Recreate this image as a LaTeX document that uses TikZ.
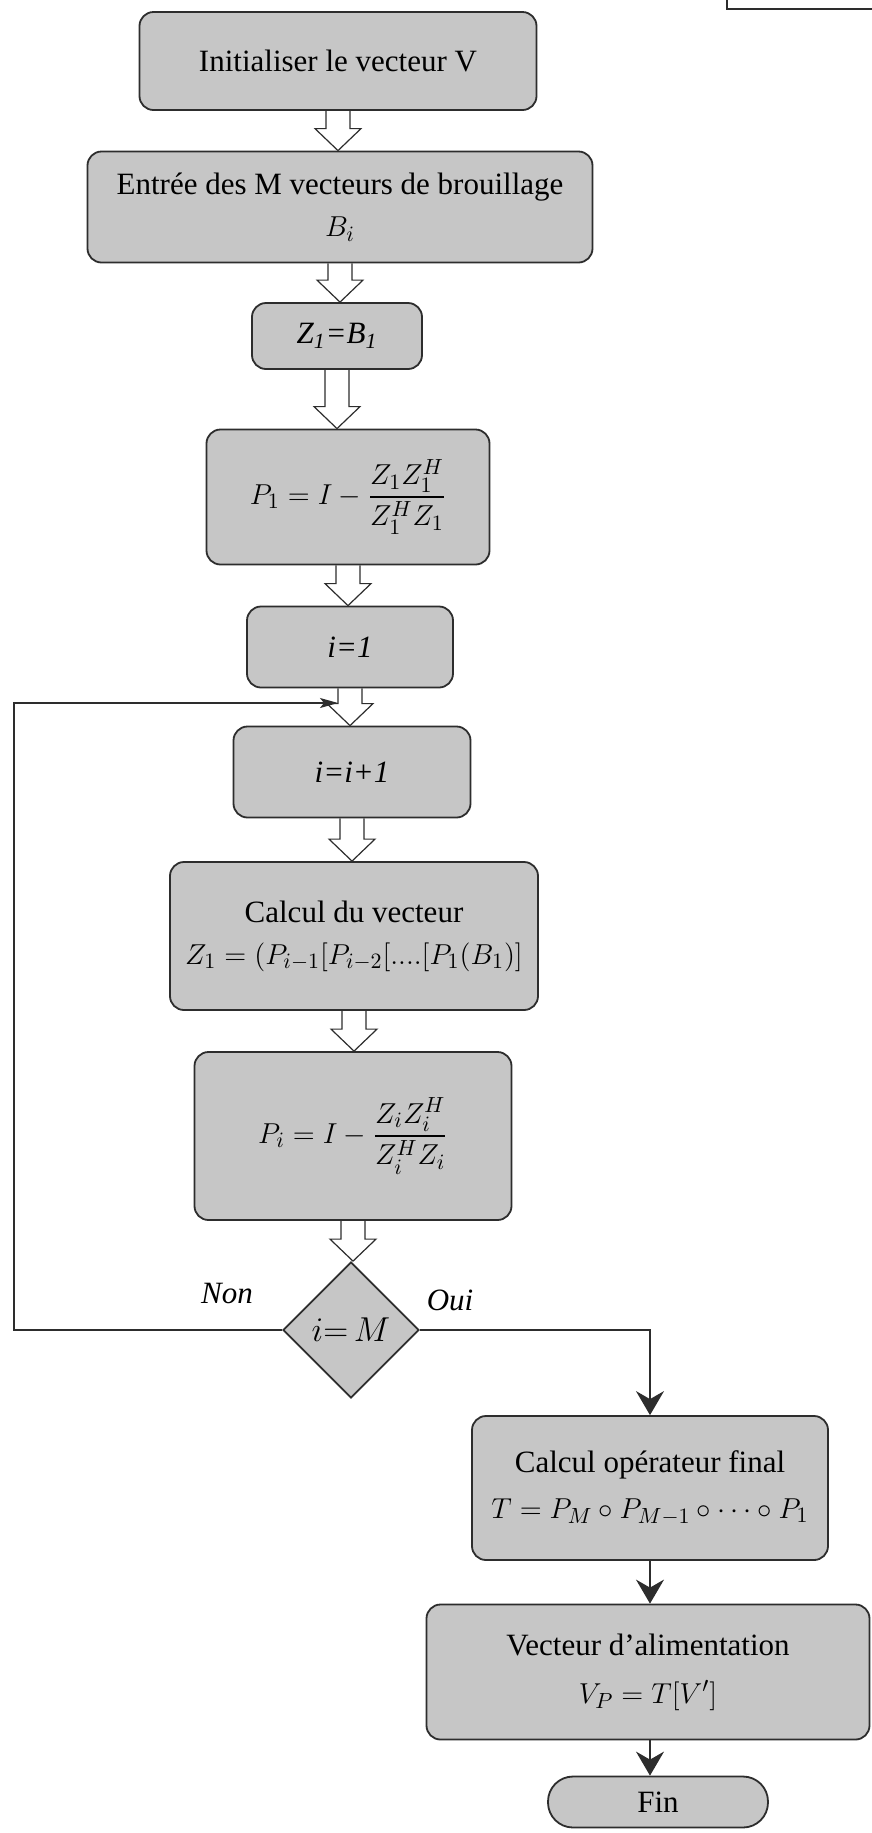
\documentclass[tikz,border=0pt]{standalone}
\usepackage{amsmath}
\usepackage{fontspec}
\setmainfont{Liberation Serif}
\usepackage{tikz}
\usetikzlibrary{shapes.geometric,arrows.meta,calc}
\definecolor{boxgrey}{RGB}{198,198,198}
\definecolor{inkdark}{RGB}{45,45,45}

\begin{document}
\begin{tikzpicture}[
    x=0.5pt, y=-0.5pt,
    stepbox/.style={rectangle, rounded corners=7pt, draw=inkdark, line width=0.9pt, fill=boxgrey,
                    align=center, inner sep=2pt, font=\fontsize{15.5}{21}\selectfont},
    test/.style={diamond, aspect=1, draw=inkdark, line width=0.9pt, fill=boxgrey,
                 inner sep=0pt, minimum size=68pt, font=\fontsize{16.5}{19}\selectfont},
    stopbox/.style={stepbox, rounded corners=12.5pt},
    answer/.style={font=\itshape\fontsize{15.5}{19}\selectfont},
    hollow/.style={draw=inkdark, line width=0.6pt, to path={
        let \p1=(\tikztostart), \p2=(\tikztotarget) in
        (\x1-6pt,\y1) -- (\x1-6pt,\y2+11pt) -- (\x1-11.5pt,\y2+11pt) -- (\x1,\y2)
        -- (\x1+11.5pt,\y2+11pt) -- (\x1+6pt,\y2+11pt) -- (\x1+6pt,\y1)}},
    flow/.style={draw=inkdark, line width=0.7pt, -{Stealth[length=12pt, width=14pt, inset=4pt]}},
    back/.style={draw=inkdark, line width=0.7pt, -{Stealth[length=9pt, width=5pt, inset=2pt]}}
]
    \fill[white] (0,0) rectangle (872,1833);
    \useasboundingbox (0,0) rectangle (872,1833);

    % corner of a box cut off at the top right
    \draw[inkdark, line width=0.9pt] (727,-5) |- (880,9);

    % initialisation
    \node[stepbox, minimum width=198.5pt, minimum height=49pt] (init) at (338,61) {Initialiser le vecteur V};
    \node[stepbox, minimum width=252.5pt, minimum height=55.5pt] (input) at (340,207)
        {Entrée des M vecteurs de brouillage\\$B_i$};
    \node[stepbox, minimum width=85pt, minimum height=33pt] (zone) at (337,336)
        {\textit{Z\textsubscript{1}=B\textsubscript{1}}};
    \node[stepbox, minimum width=141.5pt, minimum height=67.5pt] (pone) at (348,497)
        {$P_1 = I - \dfrac{Z_1 Z_1^H}{Z_1^H Z_1}$};
    \node[stepbox, minimum width=103pt, minimum height=40.5pt] (istart) at (350,647) {\textit{i=1}};

    % iteration
    \node[stepbox, minimum width=118.5pt, minimum height=45.5pt] (inext) at (352,772) {\textit{i=i+1}};
    \node[stepbox, minimum width=184pt, minimum height=74pt] (zvec) at (354,936)
        {Calcul du vecteur\\$Z_1 = (P_{i-1}[P_{i-2}[....[P_1(B_1)]$};
    \node[stepbox, minimum width=158.5pt, minimum height=84pt] (pvec) at (353,1136)
        {$P_i = I - \dfrac{Z_i Z_i^H}{Z_i^H Z_i}$};
    \node[test] (check) at (351,1330) {$i{=}\,M$};
    \node[answer] (non) at (227,1293) {Non};
    \node[answer] (oui) at (450,1300) {Oui};

    % final operator
    \node[stepbox, minimum width=178pt, minimum height=72pt] (oper) at (650,1488)
        {Calcul opérateur final\\[2pt]$T = P_M \circ P_{M-1} \circ \cdots \circ P_1$};
    \node[stepbox, minimum width=221.5pt, minimum height=67.5pt] (feed) at (648,1672)
        {Vecteur d’alimentation\\[3pt]$V_P = T[V']$};
    \node[stopbox, minimum width=110pt, minimum height=25.5pt] (fin) at (658,1802) {Fin};

    % hollow arrows of the main chain
    \draw[hollow] (init.south) to (input.north);
    \draw[hollow] (input.south) to (zone.north);
    \draw[hollow] (zone.south) to (pone.north);
    \draw[hollow] (pone.south) to (istart.north);
    \draw[hollow] (istart.south) to (inext.north);
    \draw[hollow] (inext.south) to (zvec.north);
    \draw[hollow] (zvec.south) to (pvec.north);
    \draw[hollow] (pvec.south) to (check.north);

    % loop back
    \coordinate (rail) at (14,1000);
    \coordinate (loopin) at (338,703);
    \draw[back] (check.west) -| (rail) |- (loopin);

    % exit
    \draw[flow] (check.east) -| (oper.north);
    \draw[flow] (oper.south) -- (oper.south |- feed.north);
    \draw[flow] (feed.south -| oper.south) -- (oper.south |- fin.north);
\end{tikzpicture}
\end{document}
